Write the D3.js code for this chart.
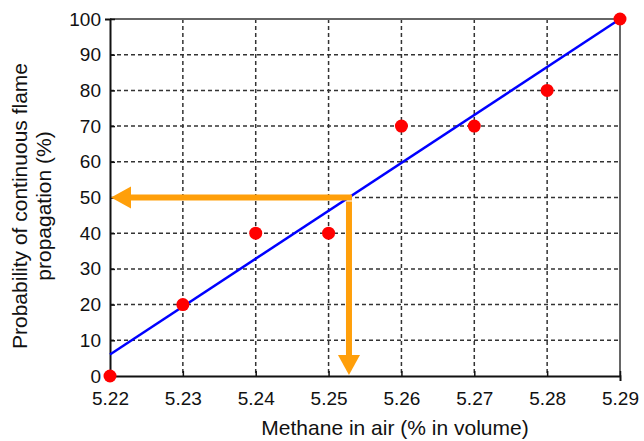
<!DOCTYPE html>
<html><head><meta charset="utf-8">
<script src="https://cdn.jsdelivr.net/npm/d3@7"></script>
<style>body{margin:0;background:#fff}text{font-family:"Liberation Sans",Arial,sans-serif}.tick text{font-size:19px}</style>
</head><body><svg id="c" width="644" height="441"></svg>
<script>
const methane = [5.22, 5.23, 5.24, 5.25, 5.26, 5.27, 5.28, 5.29];
const probability = [0, 20, 40, 40, 70, 70, 80, 100];
const fitLine = [[5.22, 6], [5.29, 100]];
const xTicks = [5.22, 5.23, 5.24, 5.25, 5.26, 5.27, 5.28, 5.29];
const yTicks = [0, 10, 20, 30, 40, 50, 60, 70, 80, 90, 100];
const target = [5.2528, 50];

const svg = d3.select("#c");
const L = 110, R = 620, T = 19, B = 376;
const x = d3.scaleLinear().domain([5.22, 5.29]).range([L, R]);
const y = d3.scaleLinear().domain([0, 100]).range([B, T]);

// grid
const g = svg.append("g");
g.selectAll(".vg").data(xTicks.slice(1, -1)).join("line")
  .attr("x1", d => x(d)).attr("x2", d => x(d)).attr("y1", T).attr("y2", B)
  .attr("stroke", "#333").attr("stroke-width", 1.5).attr("stroke-dasharray", "4,3");
g.selectAll(".hg").data(yTicks.slice(1, -1)).join("line")
  .attr("y1", d => y(d)).attr("y2", d => y(d)).attr("x1", L).attr("x2", R)
  .attr("stroke", "#333").attr("stroke-width", 1.5).attr("stroke-dasharray", "4,3");

// frame top/right
svg.append("line").attr("x1", L).attr("x2", R).attr("y1", T).attr("y2", T).attr("stroke", "#666").attr("stroke-width", 2);
svg.append("line").attr("x1", R).attr("x2", R).attr("y1", T).attr("y2", B).attr("stroke", "#666").attr("stroke-width", 2);

// axes
const xa = svg.append("g").attr("transform", `translate(0,${B})`)
  .call(d3.axisBottom(x).tickValues(xTicks).tickFormat(d3.format(".2f")).tickSize(5).tickPadding(11));
const ya = svg.append("g").attr("transform", `translate(${L},0)`)
  .call(d3.axisLeft(y).tickValues(yTicks).tickSize(5).tickPadding(4));
[xa, ya].forEach(a => {
  a.attr("font-size", 19);
  a.select(".domain").attr("stroke", "#111").attr("stroke-width", 2);
  a.selectAll(".tick line").attr("stroke", "#111").attr("stroke-width", 1.5);
  a.selectAll(".tick text").attr("fill", "#111");
});
xa.selectAll(".tick line").attr("y2", -5);
ya.selectAll(".tick line").attr("x2", 5);

// fit line
svg.append("path").datum(fitLine)
  .attr("d", d3.line().x(d => x(d[0])).y(d => y(d[1])))
  .attr("stroke", "#0000ff").attr("stroke-width", 2.5).attr("fill", "none");

// points
svg.selectAll(".pt").data(methane).join("circle")
  .attr("cx", d => x(d)).attr("cy", (d, i) => y(probability[i])).attr("r", 6.5)
  .attr("fill", "#ff0000");

// arrows
const orange = "#ff9f0a";
const tx = x(target[0]), ty = y(target[1]);
svg.append("rect").attr("x", x(5.22) + 19).attr("y", ty - 3).attr("width", tx - x(5.22) - 19 + 3).attr("height", 6).attr("fill", orange);
svg.append("path").attr("d", `M${x(5.22) + 1},${ty} L${x(5.22) + 21},${ty - 11} L${x(5.22) + 21},${ty + 11} Z`).attr("fill", orange);
svg.append("rect").attr("x", tx - 3).attr("y", ty + 4).attr("width", 6).attr("height", y(0) - 19 - ty - 4).attr("fill", orange);
svg.append("path").attr("d", `M${tx},${y(0) - 1} L${tx - 11},${y(0) - 21} L${tx + 11},${y(0) - 21} Z`).attr("fill", orange);

// titles
svg.append("text").attr("x", 395).attr("y", 435).attr("text-anchor", "middle")
  .attr("font-size", 21).attr("fill", "#111").text("Methane in air (% in volume)");
const yt = svg.append("text").attr("transform", "translate(0,206) rotate(-90)")
  .attr("text-anchor", "middle").attr("font-size", 21).attr("fill", "#111");
yt.append("tspan").attr("x", 0).attr("y", 27).text("Probability of continuous flame");
yt.append("tspan").attr("x", 0).attr("y", 51).text("propagation (%)");
</script></body></html>
